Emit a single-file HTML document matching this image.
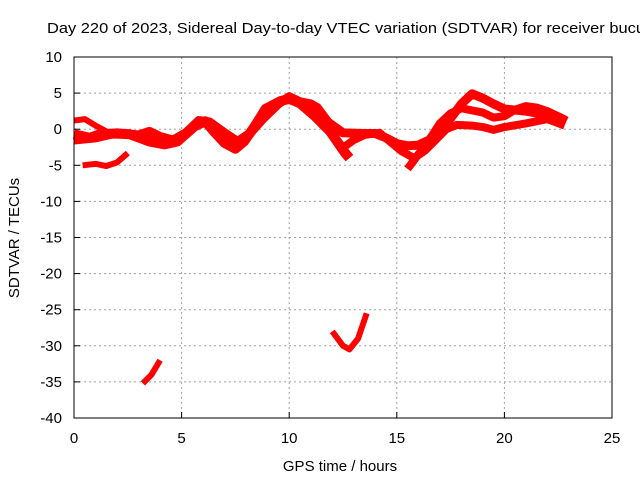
<!DOCTYPE html>
<html><head><meta charset="utf-8"><style>
body{margin:0;background:#fff}
svg{display:block;font-family:"Liberation Sans",sans-serif}
</style></head><body>
<svg id="chart" width="640" height="480">
<text x="47" y="33" font-size="15" textLength="598" lengthAdjust="spacingAndGlyphs">Day 220 of 2023, Sidereal Day-to-day VTEC variation (SDTVAR) for receiver bucu</text>
<text x="340" y="471" font-size="15" text-anchor="middle">GPS time / hours</text>
<text transform="translate(19,238) rotate(-90)" font-size="15" text-anchor="middle">SDTVAR / TECUs</text>
<g id="grid"></g><g id="series"></g>
<rect x="74" y="57" width="538" height="361" fill="none" stroke="#000"/>
</svg>
<script>
const xTicks=[0,5,10,15,20,25];
const yTicks=[10,5,0,-5,-10,-15,-20,-25,-30,-35,-40];
const s1x=[0,0.74,1.2,1.9,2.6,3.5,4.2,4.8,5.6,6.1,6.5,7.0,7.5,7.9,8.4,8.9,9.6,10.0,10.5,11.2,11.9,12.6,12.8];
const s1y=[-0.7,-1.2,-0.7,-0.6,-0.7,-1.7,-2.1,-1.7,0.4,1.1,-0.3,-1.9,-2.7,-1.7,0.4,2.8,3.9,4.2,3.6,1.8,-0.3,-3.3,-4.0];
const s2x=[0,0.5,1.0,1.5];
const s2y=[1.2,1.4,0.5,-0.3];
const s3x=[0,1,2,3,3.5,4,4.6,5.2,5.8,6.3,7,7.6,8.2,8.8,9.5,10,10.5,11,11.3,11.8,12.5,13.5,14,14.5,15,15.5,16,16.5,17,17.5,18,18.5,19,19.5,20,21,22,22.8];
const s3y=[-1.5,-1.2,-0.5,-0.8,-0.3,-1,-1.5,-0.5,1.2,1.0,-0.5,-1.7,-0.5,1.5,3.5,4.5,3.8,3.5,3.0,1.0,-0.5,-0.6,-0.6,-1.2,-2.0,-2.3,-2.2,-1.5,0,1.5,3.5,4.9,4.3,3.5,2.8,2.5,2.0,1.0];
const s4x=[12.3,13,13.5,14.2,14.6,15.2,15.8,16.3,16.8,17.3,17.8,18.5,19,19.5,20,21,22,22.8];
const s4y=[-3.0,-1.5,-0.8,-0.5,-1.5,-3.0,-4.0,-3.0,-1.5,0,0.6,0.5,0.3,-0.1,0.3,0.8,1.4,0.5];
const s5x=[15.5,16,16.5,17,17.5,18,19,19.5,20,20.5,21,21.5,22,22.5,22.9];
const s5y=[-5.5,-3.5,-1.5,0.8,2.2,2.9,2.3,1.6,1.8,2.7,3.2,3.0,2.5,1.8,1.2];
const s6x=[0.4,1,1.5,2,2.5];
const s6y=[-5,-4.8,-5.1,-4.6,-3.3];
const s7x=[3.2,3.6,4];
const s7y=[-35.2,-34,-32];
const s8x=[12,12.5,12.8,13.2,13.6];
const s8y=[-28,-30,-30.5,-29,-25.5];
const allX=[s1x,s2x,s3x,s4x,s5x,s6x,s7x,s8x];
const allY=[s1y,s2y,s3y,s4y,s5y,s6y,s7y,s8y];
const widths=[10,6,9,8,8,6,6,6];
const X=v=>74+v*538/25, Y=v=>57+(10-v)*361/50;
const NS="http://www.w3.org/2000/svg";
const g=document.getElementById('grid'), sg=document.getElementById('series');
function mk(t,a,p){const e=document.createElementNS(NS,t);for(const k in a)e.setAttribute(k,a[k]);p.appendChild(e);return e;}
xTicks.forEach(t=>{
 if(t>0&&t<25){const l=mk('line',{x1:X(t),x2:X(t),y1:57,y2:418,stroke:'#a0a0a0','stroke-dasharray':'2,3'},g);
 
 }
 const tk=mk('line',{x1:X(t),x2:X(t),y1:418,y2:412,stroke:'#000'},g);
 
 
 const tx=mk('text',{x:X(t),y:443,'font-size':15,'text-anchor':'middle'},g);tx.textContent=t;
 
 
});
yTicks.forEach(t=>{
 if(t<10&&t>-40){const l=mk('line',{x1:74,x2:612,y1:Y(t),y2:Y(t),stroke:'#a0a0a0','stroke-dasharray':'2,3'},g);
 
 }
 const tk=mk('line',{x1:74,x2:80,y1:Y(t),y2:Y(t),stroke:'#000'},g);
 
 
 const tx=mk('text',{x:62,y:Y(t)+5,'font-size':15,'text-anchor':'end'},g);tx.textContent=t;
 
 
});
allX.forEach((xs,i)=>{
 const ys=allY[i];
 const pts=xs.map((x,j)=>X(x)+','+Y(ys[j])).join(' ');
 const p=mk('polyline',{points:pts,fill:'none',stroke:'#ff0000','stroke-width':widths[i],'stroke-linejoin':'round','stroke-linecap':'butt'},sg);
 
 
});
</script>
</body></html>
